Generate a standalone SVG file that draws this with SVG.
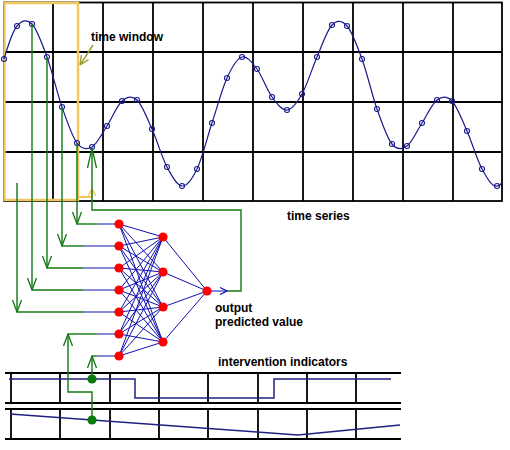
<svg xmlns="http://www.w3.org/2000/svg" width="510" height="450" viewBox="0 0 510 450">
<style>
.grid{stroke:#000;stroke-width:1.8;fill:none}
.curve{stroke:#1a1a8c;stroke-width:1.2;fill:none}
.pt{stroke:#1a1a8c;stroke-width:1.1;fill:none}
.g{stroke:#127812;stroke-width:1.4;fill:none}
.b{stroke:#1010b0;stroke-width:1;fill:none}
.ind{stroke:#202080;stroke-width:1.5;fill:none}
.red{fill:#ff0000}
.gdot{fill:#0a7a0a}
.lbl{font-family:"Liberation Sans",Arial,sans-serif;font-weight:bold;font-size:12px;fill:#000}
</style>
<defs>
<marker id="ga" viewBox="-13 -6 14 12" refX="0" refY="0" markerWidth="14" markerHeight="12" markerUnits="userSpaceOnUse" orient="auto"><path d="M-12,-4.5 L0,0 L-12,4.5" stroke="#127812" stroke-width="1.3" fill="none"/></marker>
<marker id="gaL" viewBox="-21 -6 22 12" refX="0" refY="0" markerWidth="22" markerHeight="12" markerUnits="userSpaceOnUse" orient="auto"><path d="M-20,-4.5 L0,0 L-20,4.5" stroke="#127812" stroke-width="1.3" fill="none"/></marker>
<marker id="ba" viewBox="-9 -5 10 10" refX="0" refY="0" markerWidth="10" markerHeight="10" markerUnits="userSpaceOnUse" orient="auto"><path d="M-7,-3.5 L0,0 L-7,3.5" stroke="#1010b0" stroke-width="1.2" fill="none"/></marker>
<marker id="ya" viewBox="-9 -6 10 12" refX="0" refY="0" markerWidth="10" markerHeight="12" markerUnits="userSpaceOnUse" orient="auto"><path d="M-7,-4 L0,0 L-7,4" stroke="#f0c860" stroke-width="1.5" fill="none"/></marker>
</defs>
<rect width="510" height="450" fill="#fff"/>
<g id="timeseries-grid">
<rect class="grid" x="4" y="2.5" width="498" height="198.5"/>
<path class="grid" d="M53,2.5V201 M103,2.5V201 M153,2.5V201 M203,2.5V201 M253,2.5V201 M303,2.5V201 M353,2.5V201 M403,2.5V201 M453,2.5V201 M4,52H502 M4,102H502 M4,152H502"/>
</g>
<g id="time-window">
<rect x="4.5" y="3" width="73.5" height="197" fill="none" stroke="#f0c860" stroke-width="2.5"/>
<path d="M78,197 H92 V189" stroke="#f0c860" stroke-width="2" fill="none" marker-end="url(#ya)"/>
</g>
<g id="curve">
<path class="curve" d="M4,59 C8,46 12,31.8 17,26 S27,18.8 32,24 S42,43.2 47,57 S57,92.7 62,107 S72,136.3 77,143 S87,149.8 92,147 S102,133.7 107,126 S117,105.3 122,101 S132,95.3 137,100 S147,117.8 152,129 S162,157.5 167,167 S177,185.7 182,186 S192,179.5 197,169 S207,138.2 212,123 S222,89 227,78 S237,58.5 242,57 S252,62.3 257,69 S267,90.2 272,97 S282,110.5 287,110 S297,102.8 302,94 S312,68.5 317,57 S327,30.2 332,25 S342,20.3 347,26 S357,45.2 362,59 S372,94.8 377,109 S387,137.8 392,144 S402,149.5 407,146 S417,130.7 422,123 S432,103.7 437,100 S447,95.8 452,101 S462,119.7 467,131 S477,159.8 482,169 S492,187 497,186 S501,183 502,182"/>
<g class="pt">
<circle cx="4" cy="59" r="2.5"/><circle cx="17" cy="26" r="2.5"/><circle cx="32" cy="24" r="2.5"/><circle cx="47" cy="57" r="2.5"/><circle cx="62" cy="107" r="2.5"/><circle cx="77" cy="143" r="2.5"/><circle cx="92" cy="147" r="2.5"/><circle cx="107" cy="126" r="2.5"/><circle cx="122" cy="101" r="2.5"/><circle cx="137" cy="100" r="2.5"/><circle cx="152" cy="129" r="2.5"/><circle cx="167" cy="167" r="2.5"/><circle cx="182" cy="186" r="2.5"/><circle cx="197" cy="169" r="2.5"/><circle cx="212" cy="123" r="2.5"/><circle cx="227" cy="78" r="2.5"/><circle cx="242" cy="57" r="2.5"/><circle cx="257" cy="69" r="2.5"/><circle cx="272" cy="97" r="2.5"/><circle cx="287" cy="110" r="2.5"/><circle cx="302" cy="94" r="2.5"/><circle cx="317" cy="57" r="2.5"/><circle cx="332" cy="25" r="2.5"/><circle cx="347" cy="26" r="2.5"/><circle cx="362" cy="59" r="2.5"/><circle cx="377" cy="109" r="2.5"/><circle cx="392" cy="144" r="2.5"/><circle cx="407" cy="146" r="2.5"/><circle cx="422" cy="123" r="2.5"/><circle cx="437" cy="100" r="2.5"/><circle cx="452" cy="101" r="2.5"/><circle cx="467" cy="131" r="2.5"/><circle cx="482" cy="169" r="2.5"/><circle cx="497" cy="186" r="2.5"/>
</g>
</g>
<g id="indicator-grid">
<path class="grid" d="M5,373H401 M5,403H401 M5,409H401 M5,439H401 M11,373V403 M60,373V403 M110,373V403 M159,373V403 M208,373V403 M258,373V403 M307,373V403 M356,373V403 M11,409V439 M60,409V439 M110,409V439 M159,409V439 M208,409V439 M258,409V439 M307,409V439 M356,409V439"/>
<path class="ind" d="M9,379 H135 V398 H274 V379 H391"/>
<path class="ind" d="M10,414 L298,435 L400,425"/>
</g>
<g id="connectors">
<path class="g" d="M93,45 L80,65 M80,65 L88.5,59.7 M80,65 L81.4,55.1" style="stroke:#98a030"/>
<path class="g" d="M77,143 V224" marker-end="url(#ga)"/>
<path class="g" d="M77,224 H97"/>
<path class="b" d="M97,224 H119"/>
<path class="g" d="M62,107 V246" marker-end="url(#ga)"/>
<path class="g" d="M62,246 H83"/>
<path class="b" d="M83,246 H119"/>
<path class="g" d="M47,57 V268" marker-end="url(#ga)"/>
<path class="g" d="M47,268 H83"/>
<path class="b" d="M83,268 H119"/>
<path class="g" d="M32,24 V290" marker-end="url(#ga)"/>
<path class="g" d="M32,290 H83"/>
<path class="b" d="M83,290 H119"/>
<path class="g" d="M17,183 V312" marker-end="url(#ga)"/>
<path class="g" d="M17,312 H83"/>
<path class="b" d="M83,312 H119"/>
<path class="g" d="M92,420 V392 H68 V334" marker-end="url(#ga)"/>
<path class="g" d="M68,334 H97"/>
<path class="b" d="M97,334 H119"/>
<path class="g" d="M92,379 V356" marker-end="url(#ga)"/>
<path class="g" d="M92,356 H97"/>
<path class="b" d="M97,356 H119"/>
<path class="b" d="M207,291 H227" marker-end="url(#ba)"/>
<path class="g" d="M227,291 H241 V210 H92 V148" marker-end="url(#gaL)"/>
<g class="b">
<path d="M119,224 L163,237 M119,224 L163,272 M119,224 L163,307 M119,224 L163,342"/>
<path d="M119,246 L163,237 M119,246 L163,272 M119,246 L163,307 M119,246 L163,342"/>
<path d="M119,268 L163,237 M119,268 L163,272 M119,268 L163,307 M119,268 L163,342"/>
<path d="M119,290 L163,237 M119,290 L163,272 M119,290 L163,307 M119,290 L163,342"/>
<path d="M119,312 L163,237 M119,312 L163,272 M119,312 L163,307 M119,312 L163,342"/>
<path d="M119,334 L163,237 M119,334 L163,272 M119,334 L163,307 M119,334 L163,342"/>
<path d="M119,356 L163,237 M119,356 L163,272 M119,356 L163,307 M119,356 L163,342"/>
<path d="M163,237 L207,291 M163,272 L207,291 M163,307 L207,291 M163,342 L207,291"/>
</g>
</g>
<g id="in1"><circle class="red" cx="119" cy="224" r="4.6"/></g>
<g id="in2"><circle class="red" cx="119" cy="246" r="4.6"/></g>
<g id="in3"><circle class="red" cx="119" cy="268" r="4.6"/></g>
<g id="in4"><circle class="red" cx="119" cy="290" r="4.6"/></g>
<g id="in5"><circle class="red" cx="119" cy="312" r="4.6"/></g>
<g id="in6"><circle class="red" cx="119" cy="334" r="4.6"/></g>
<g id="in7"><circle class="red" cx="119" cy="356" r="4.6"/></g>
<g id="h1"><circle class="red" cx="163" cy="237" r="4.6"/></g>
<g id="h2"><circle class="red" cx="163" cy="272" r="4.6"/></g>
<g id="h3"><circle class="red" cx="163" cy="307" r="4.6"/></g>
<g id="h4"><circle class="red" cx="163" cy="342" r="4.6"/></g>
<g id="out"><circle class="red" cx="207" cy="291" r="4.6"/></g>
<g id="ind1"><circle class="gdot" cx="92" cy="379" r="4.6"/></g>
<g id="ind2"><circle class="gdot" cx="92" cy="420" r="4.6"/></g>
<g id="labels">
<text class="lbl" x="91" y="40.5">time window</text>
<text class="lbl" x="287" y="220">time series</text>
<text class="lbl" x="215" y="312">output</text>
<text class="lbl" x="215" y="326">predicted value</text>
<text class="lbl" x="218" y="366">intervention indicators</text>
</g>
</svg>
